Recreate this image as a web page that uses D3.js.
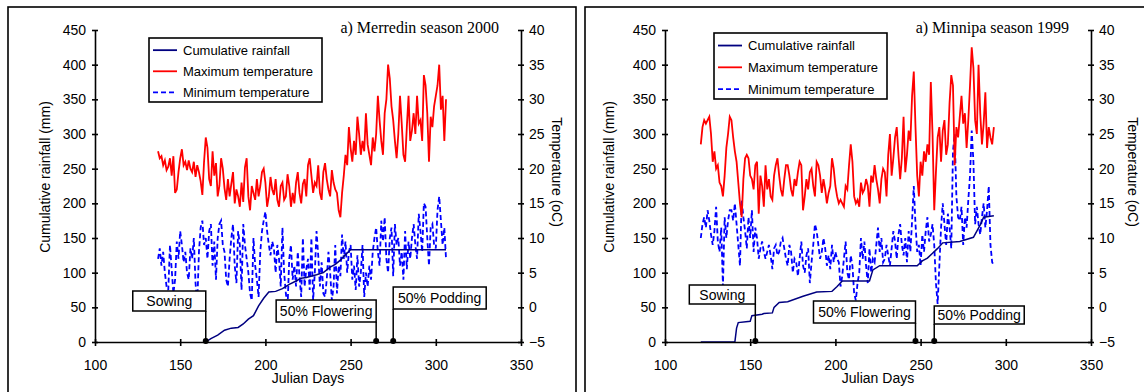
<!DOCTYPE html>
<html>
<head>
<meta charset="utf-8">
<script src="https://cdn.jsdelivr.net/npm/d3@7"></script>
<style>
  body { margin: 0; background: #fff; }
  svg { display: block; }
  text { font-family: "Liberation Sans", Arial, sans-serif; }
</style>
</head>
<body>
<script>
// ---- data ----
const xTicks = [100, 150, 200, 250, 300, 350];
const rainTicks = [0, 50, 100, 150, 200, 250, 300, 350, 400, 450];
const tempTicks = [-5, 0, 5, 10, 15, 20, 25, 30, 35, 40];
const legendLabels = ['Cumulative rainfall', 'Maximum temperature', 'Minimum temperature'];
const stageLabels = ['Sowing', '50% Flowering', '50% Podding'];

// Merredin 2000, daily from day 137
const merredinFirstDay = 137;
const merredinMaxT = [
  22.5, 21.5, 21.8, 20.5, 21.2, 19.8, 20.3, 21.5, 19, 21.8,
  16.5, 17, 19.5, 21.5, 22.8, 20.5, 21, 19.8, 21.2, 20,
  19.5, 21, 18.8, 20.5, 19.5, 18.2, 16.2, 21, 24.5, 23,
  18.5, 17.5, 22.5, 19, 20.8, 16, 17.5, 21.5, 20, 17.2,
  15.5, 18.5, 16, 17.8, 19.5, 15, 17, 16, 14.5, 18,
  15.2, 20.2, 21.5, 16, 14, 17.5, 16.5, 15.5, 18.5, 16,
  17.5, 19.5, 20, 18, 14.5, 16, 18.8, 17, 16.2, 18.5,
  15.5, 14.5, 17.5, 18, 15.5, 16, 19.2, 17.5, 14.5, 16.5,
  15, 18, 19.5, 16.5, 15, 17.8, 18.5, 16, 20.5, 21.5,
  19, 16.5, 18, 17.5, 20.5, 16.5, 15.5, 19.5, 20.8, 18.5,
  17, 16, 19.8, 18, 17, 16.5, 14, 13, 16.5, 19,
  22, 20.5, 26, 23, 21, 24, 22, 27.5, 25, 22,
  24, 22.5, 28, 23.5, 22, 20.5, 24.5, 22.5, 25, 30.5,
  27, 24, 22, 28, 30, 35, 33, 29, 27, 24,
  21.5, 25, 30.5, 26.5, 22, 21, 26, 30.5, 24, 25.5,
  28, 25, 30.5, 26.5, 27, 24, 33.5, 32, 28, 21,
  27.5, 26, 29, 30.5, 32, 35, 28.5, 30.5, 24, 30
];
const merredinMinT = [
  7, 8.5, 6, 8, 5, 3, 2.5, 9, 5.5, 2,
  4, 9.5, 7, 11, 9, 6.5, 8, 5, 4, 8.5,
  7, 10, 3.5, 0.5, 8, 11.5, 12.5, 9, 10, 7,
  11, 12, 6, 9.5, 4, 10, 12, 12.5, 9, 8,
  4, 3, 7, 10, 12, 6, 3.5, 11, 9, 2.5,
  12, 9, 7, 5, 2, 1, 10, 6, 4, 1.5,
  8, 11, 12.5, 13.8, 11, 9, 7.5, 9.5, 8.5, 5,
  9, 7, 3, 11.5, 5, 2, 0, 7, 9, 4,
  6, 3, 8, 4.5, 1.5, 10, 3, 5.5, 7, 2.5,
  10, 1, 5, 11, 7.5, 3, 6.5, 2, 1.5, 4,
  8, 5, 1, 3, 9, 2, 6, 4.5, 10.5, 7,
  9.5, 5, 8, 9, 4, 6, 2.5, 7.5, 3, 5,
  9, 1.5, 5, 3, 6, 4, 8, 10, 11.5, 8,
  6, 12.5, 9.5, 13, 7, 5, 10, 11.5, 4.5, 12,
  9, 10, 6, 8, 4, 11, 5.5, 9.5, 7, 10,
  12, 9, 7, 13.5, 11, 8, 15, 14.5, 10, 6,
  11.5, 12, 9, 8.5, 14, 16, 12.5, 9, 11.5, 7
];
const merredinRainDays = [165, 168, 172, 176, 180, 184, 187, 190, 193, 196, 199, 202, 206, 210, 214, 218, 221, 224, 230, 234, 238, 241, 244, 247, 250, 306];
const merredinRainMm   = [0, 5, 10, 17, 20, 21, 26, 33, 38, 52, 63, 72, 73, 77, 83, 88, 92, 93, 97, 100, 108, 112, 118, 126, 133, 133];
const merredinStages = [165, 265, 275];

// Minnipa 1999, daily from day 121
const minnipaFirstDay = 121;
const minnipaMaxT = [
  23.5, 26, 27, 26.5, 27, 27.5, 25, 21, 22.5, 20,
  20.5, 18, 17.5, 16, 19, 23, 25, 27.5, 27, 24.5,
  22.5, 21, 18, 15, 13, 18.5, 21.5, 22, 21.5, 19,
  18.5, 17, 20.5, 21, 13.5, 19, 17.5, 14.5, 20.5, 17,
  18.5, 16, 15.5, 19, 20.5, 21.5, 19, 17, 16, 18.5,
  20.5, 20.5, 19, 17, 16, 18.5, 17.5, 19.5, 21, 20.5,
  14, 16, 18.5, 17, 19.5, 20, 17.5, 16, 21, 20.5,
  19, 16.5, 18.5, 17, 15, 16.5, 17.5, 21.5, 20, 17.5,
  16, 15, 15.5, 15, 14.5, 17.5, 17, 20.5, 23.5, 21,
  16, 15, 15.5, 14.5, 18, 16.5, 17, 18.5, 17.5, 14.5,
  19, 18, 20.5, 18.5, 17, 15, 18.5, 20, 19.5, 16,
  22, 25, 19, 21.5, 24.5, 26, 22, 18.5, 21.5, 27.5,
  19.5, 22, 25.5, 24, 30.5, 34, 26, 19, 16, 21,
  19, 22.5, 21, 23.5, 22, 32.5, 25, 14, 19.5, 24.5,
  26, 21, 25.5, 27, 22, 23.5, 29.5, 33.5, 32, 20.5,
  26, 24.5, 27.5, 30.5, 26.5, 28, 23, 27, 32, 37.5,
  34.5, 27, 25, 35, 28, 23.5, 26.5, 31, 23, 26,
  24.5, 23.5, 26
];
const minnipaMinT = [
  10, 12, 13, 11.5, 14, 12.5, 10.5, 9, 11, 14.5,
  9.5, 8, 11.5, 3, 13, 10, 12.5, 14, 14, 12.5,
  15, 12, 9, 6, 15.5, 13, 11, 8.5, 13, 10,
  14, 8, 11.5, 10, 7, 8.5, 9.5, 8, 7, 8,
  9, 7.5, 5.5, 8.5, 9, 7.5, 8, 9.5, 10, 8.5,
  7, 6, 9, 8, 5, 7, 6.5, 4.5, 7, 9.5,
  6, 5, 7.5, 8.5, 3.5, 6.5, 9, 12, 11, 9,
  7, 8, 10, 8.5, 6, 7.5, 5.5, 9, 6.5, 8,
  7, 6.5, 3, 4.5, 7, 9.5, 5, 4, 7.5, 6,
  2, 1, 3.5, 5, 10, 7, 9.5, 6, 3.5, 8.5,
  5, 7, 6.5, 9, 11.5, 8, 10, 6.5, 7, 9,
  7.5, 6, 8.5, 11, 9.5, 7, 10.5, 12, 9, 7.5,
  10, 6.5, 11, 8, 12.5, 17.5, 12, 8, 9, 6,
  10.5, 8, 11, 13, 9.5, 10.5, 12, 9, 3.5, 0.5,
  6, 11.5, 15, 12, 9, 13.5, 11.5, 8.5, 22.5, 25,
  16, 13, 12.5, 14.5, 9, 13, 11.5, 15.5, 19, 25.5,
  21, 12, 14.5, 12, 10.5, 13, 15, 11.5, 14, 17.5,
  9, 6.5, 6
];
const minnipaRainDays = [121, 141, 142, 143, 150, 151, 157, 158, 163, 164, 167, 172, 181, 189, 198, 201, 204, 220, 222, 226, 248, 251, 254, 257, 260, 263, 273, 281, 285, 287, 293];
const minnipaRainMm   = [0, 0, 20, 28, 30, 38, 40, 41, 42, 50, 57, 58, 66, 72, 73, 80, 88, 88, 104, 110, 110, 117, 121, 128, 135, 143, 145, 151, 169, 180, 182];
const minnipaStages = [153, 247, 258];

// ---- layout ----
const panels = [
  {
    title: 'a) Merredin season 2000',
    frame: [8, 7, 568, 400], xRange: [95, 521],
    firstDay: merredinFirstDay, maxT: merredinMaxT, minT: merredinMinT,
    rainDays: merredinRainDays, rainMm: merredinRainMm, stages: merredinStages,
    legend: { x: 149, y: 38, w: 173, h: 64 },
    boxes: [ { w: 73, y: 291, h: 20, side: 'right' }, { w: 100, y: 300, h: 22, side: 'right' }, { w: 93, y: 287, h: 22, side: 'left' } ],
    yTitleX: 45, tTitleX: 557
  },
  {
    title: 'a) Minnipa season 1999',
    frame: [585, 7, 568, 400], xRange: [665, 1091],
    firstDay: minnipaFirstDay, maxT: minnipaMaxT, minT: minnipaMinT,
    rainDays: minnipaRainDays, rainMm: minnipaRainMm, stages: minnipaStages,
    legend: { x: 714, y: 33, w: 173, h: 66 },
    boxes: [ { w: 66, y: 285, h: 19, side: 'right' }, { w: 102, y: 301, h: 22, side: 'right' }, { w: 90, y: 306, h: 18, side: 'left' } ],
    yTitleX: 609, tTitleX: 1133
  }
];

const svg = d3.select('body').append('svg')
  .attr('width', 1144)
  .attr('height', 392);

const yTop = 30, yBot = 342;

function drawPanel(p) {
  const g = svg.append('g');
  g.append('rect')
    .attr('x', p.frame[0]).attr('y', p.frame[1])
    .attr('width', p.frame[2]).attr('height', p.frame[3])
    .attr('fill', 'none').attr('stroke', '#000').attr('stroke-width', 1.6);

  const x = d3.scaleLinear().domain([100, 350]).range(p.xRange);
  const yRain = d3.scaleLinear().domain([0, 450]).range([yBot, yTop]);
  const yTemp = d3.scaleLinear().domain([-5, 40]).range([yBot, yTop]);

  // series
  const tempLine = d3.line()
    .x((d, i) => x(p.firstDay + i))
    .y(d => yTemp(d));
  g.append('path')
    .datum(p.minT)
    .attr('fill', 'none').attr('stroke', '#0000ff').attr('stroke-width', 1.8)
    .attr('stroke-dasharray', '5,3')
    .attr('d', tempLine);
  g.append('path')
    .datum(p.maxT)
    .attr('fill', 'none').attr('stroke', '#ff0000').attr('stroke-width', 1.8)
    .attr('d', tempLine);
  const rainLine = d3.line()
    .x(d => x(d[0]))
    .y(d => yRain(d[1]));
  g.append('path')
    .datum(d3.zip(p.rainDays, p.rainMm))
    .attr('fill', 'none').attr('stroke', '#000080').attr('stroke-width', 1.5)
    .attr('d', rainLine);

  // axes
  const left = g.append('g')
    .attr('transform', `translate(${p.xRange[0]},0)`)
    .call(d3.axisLeft(yRain).tickValues(rainTicks).tickSizeInner(3).tickSizeOuter(0).tickPadding(6));
  left.selectAll('.tick line').attr('x1', 3);
  const right = g.append('g')
    .attr('transform', `translate(${p.xRange[1]},0)`)
    .call(d3.axisRight(yTemp).tickValues(tempTicks).tickSizeInner(3).tickSizeOuter(0).tickPadding(5));
  right.selectAll('.tick line').attr('x1', -3);
  const bottom = g.append('g')
    .attr('transform', `translate(0,${yBot})`)
    .call(d3.axisBottom(x).tickValues(xTicks).tickSizeInner(4).tickSizeOuter(0).tickPadding(14));
  bottom.selectAll('.tick line').attr('y1', -3);
  [left, right, bottom].forEach(a => {
    a.selectAll('path, line').attr('stroke', '#000').attr('stroke-width', 1.6);
    a.selectAll('text').attr('font-size', 14).attr('font-family', '"Liberation Sans", Arial, sans-serif').attr('fill', '#000');
  });

  // titles
  g.append('text')
    .attr('x', p.xRange[1] - 22).attr('y', 33)
    .attr('text-anchor', 'end')
    .style('font-family', '"Liberation Serif", "Times New Roman", serif')
    .attr('font-size', 16)
    .text(p.title);
  g.append('text')
    .attr('transform', `translate(${p.yTitleX + 5},177) rotate(-90)`)
    .attr('text-anchor', 'middle').attr('font-size', 14)
    .text('Cumulative rainfall (mm)');
  g.append('text')
    .attr('transform', `translate(${p.tTitleX - 5},172) rotate(90)`)
    .attr('text-anchor', 'middle').attr('font-size', 14)
    .text('Temperature (oC)');
  g.append('text')
    .attr('x', (p.xRange[0] + p.xRange[1]) / 2).attr('y', 383)
    .attr('text-anchor', 'middle').attr('font-size', 14)
    .text('Julian Days');

  // legend
  const L = p.legend;
  const lg = g.append('g').attr('transform', `translate(${L.x},${L.y})`);
  lg.append('rect').attr('width', L.w).attr('height', L.h)
    .attr('fill', '#fff').attr('stroke', '#000').attr('stroke-width', 1.6);
  const styles = [
    { c: '#000080', dash: null },
    { c: '#ff0000', dash: null },
    { c: '#0000ff', dash: '5,3' }
  ];
  legendLabels.forEach((lab, i) => {
    const cy = L.h * (0.19 + i * 0.33);
    lg.append('line')
      .attr('x1', 4).attr('x2', 28).attr('y1', cy).attr('y2', cy)
      .attr('stroke', styles[i].c).attr('stroke-width', 1.8)
      .attr('stroke-dasharray', styles[i].dash);
    lg.append('text')
      .attr('x', 34).attr('y', cy + 4.5).attr('font-size', 13)
      .text(lab);
  });

  // stage call-outs
  p.stages.forEach((day, i) => {
    const b = p.boxes[i];
    const sx = x(day);
    const bx = b.side === 'right' ? sx - b.w : sx;
    g.append('line')
      .attr('x1', sx).attr('x2', sx).attr('y1', b.y + b.h).attr('y2', yBot)
      .attr('stroke', '#000').attr('stroke-width', 1.5);
    g.append('circle').attr('cx', sx).attr('cy', yBot - 1).attr('r', 3).attr('fill', '#000');
    g.append('rect')
      .attr('x', bx).attr('y', b.y).attr('width', b.w).attr('height', b.h)
      .attr('fill', '#fff').attr('stroke', '#000').attr('stroke-width', 1.5);
    g.append('text')
      .attr('x', bx + b.w / 2).attr('y', b.y + b.h / 2 + 5)
      .attr('text-anchor', 'middle').attr('font-size', 14)
      .text(stageLabels[i]);
  });
}

panels.forEach(drawPanel);
</script>
</body>
</html>
